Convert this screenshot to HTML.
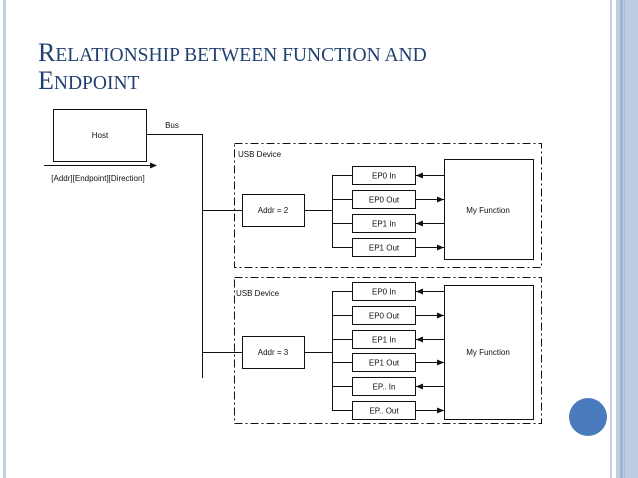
<!DOCTYPE html>
<html><head><meta charset="utf-8"><style>
html,body{margin:0;padding:0;background:#fff;}
svg{display:block;}
.t{font-family:"Liberation Sans",sans-serif;font-size:8px;fill:#111;}
</style></head><body>
<svg width="638" height="478" viewBox="0 0 638 478" xmlns="http://www.w3.org/2000/svg">
<rect width="638" height="478" fill="#fff"/>
<rect x="3" y="0" width="3" height="478" fill="#c3cfe2"/>
<rect x="610" y="0" width="2" height="478" fill="#c3cfe2"/>
<rect x="616" y="0" width="22" height="478" fill="#bfcde2"/>
<rect x="620" y="0" width="3" height="478" fill="#9fb4d2"/>
<rect x="624" y="0" width="1" height="478" fill="#aebfd8"/>
<circle cx="588" cy="417" r="19" fill="#4a7cbd"/>
<g font-family="Liberation Serif, serif" fill="#21406f">
<text x="38" y="61" font-size="26">R<tspan font-size="19.5">ELATIONSHIP BETWEEN FUNCTION AND</tspan></text>
<text x="38" y="89" font-size="26">E<tspan font-size="19.5">NDPOINT</tspan></text>
</g>
<g stroke="#111" stroke-width="1" fill="none">
<rect x="53.5" y="109.5" width="93" height="52"/>
<polyline points="147,134.5 202.5,134.5 202.5,378"/>
<line x1="44" y1="165.5" x2="152" y2="165.5"/>
<rect x="234.5" y="143.5" width="307" height="124" stroke-dasharray="8,3,2,3"/>
<rect x="234.5" y="277.5" width="307" height="146" stroke-dasharray="8,3,2,3"/>
<line x1="202" y1="210.5" x2="242" y2="210.5"/>
<line x1="202" y1="352.5" x2="242" y2="352.5"/>
<rect x="242.5" y="194.5" width="62" height="32"/>
<rect x="242.5" y="336.5" width="62" height="32"/>
<line x1="305" y1="210.5" x2="332" y2="210.5"/>
<line x1="305" y1="352.5" x2="332" y2="352.5"/>
<line x1="332.5" y1="175" x2="332.5" y2="247"/>
<line x1="332.5" y1="291" x2="332.5" y2="410"/>
<rect x="444.5" y="159.5" width="89" height="100"/>
<rect x="444.5" y="285.5" width="89" height="134"/>
</g>
<polygon points="157,165.5 150,162.5 150,168.5" fill="#111"/>
<text class="t" x="100" y="138" text-anchor="middle">Host</text>
<text class="t" x="172" y="128" text-anchor="middle">Bus</text>
<text class="t" x="98" y="181" text-anchor="middle">[Addr][Endpoint][Direction]</text>
<text class="t" x="238" y="157">USB Device</text>
<text class="t" x="236" y="296">USB Device</text>
<text class="t" x="273" y="213" text-anchor="middle">Addr = 2</text>
<text class="t" x="273" y="355" text-anchor="middle">Addr = 3</text>
<text class="t" x="488" y="213" text-anchor="middle">My Function</text>
<text class="t" x="488" y="355" text-anchor="middle">My Function</text>
<g stroke="#111" fill="none">
<line x1="332" y1="175.5" x2="352" y2="175.5"/><rect x="352.5" y="166.5" width="63" height="18"/><line x1="416" y1="175.5" x2="444" y2="175.5"/>
<line x1="332" y1="199.5" x2="352" y2="199.5"/><rect x="352.5" y="190.5" width="63" height="18"/><line x1="416" y1="199.5" x2="444" y2="199.5"/>
<line x1="332" y1="223.5" x2="352" y2="223.5"/><rect x="352.5" y="214.5" width="63" height="18"/><line x1="416" y1="223.5" x2="444" y2="223.5"/>
<line x1="332" y1="247.5" x2="352" y2="247.5"/><rect x="352.5" y="238.5" width="63" height="18"/><line x1="416" y1="247.5" x2="444" y2="247.5"/>
<line x1="332" y1="291.5" x2="352" y2="291.5"/><rect x="352.5" y="282.5" width="63" height="18"/><line x1="416" y1="291.5" x2="444" y2="291.5"/>
<line x1="332" y1="315.5" x2="352" y2="315.5"/><rect x="352.5" y="306.5" width="63" height="18"/><line x1="416" y1="315.5" x2="444" y2="315.5"/>
<line x1="332" y1="339.5" x2="352" y2="339.5"/><rect x="352.5" y="330.5" width="63" height="18"/><line x1="416" y1="339.5" x2="444" y2="339.5"/>
<line x1="332" y1="362.5" x2="352" y2="362.5"/><rect x="352.5" y="353.5" width="63" height="18"/><line x1="416" y1="362.5" x2="444" y2="362.5"/>
<line x1="332" y1="386.5" x2="352" y2="386.5"/><rect x="352.5" y="377.5" width="63" height="18"/><line x1="416" y1="386.5" x2="444" y2="386.5"/>
<line x1="332" y1="410.5" x2="352" y2="410.5"/><rect x="352.5" y="401.5" width="63" height="18"/><line x1="416" y1="410.5" x2="444" y2="410.5"/>
</g>
<g fill="#111">
<polygon points="416,175.5 423,172.5 423,178.5"/>
<polygon points="444,199.5 437,196.5 437,202.5"/>
<polygon points="416,223.5 423,220.5 423,226.5"/>
<polygon points="444,247.5 437,244.5 437,250.5"/>
<polygon points="416,291.5 423,288.5 423,294.5"/>
<polygon points="444,315.5 437,312.5 437,318.5"/>
<polygon points="416,339.5 423,336.5 423,342.5"/>
<polygon points="444,362.5 437,359.5 437,365.5"/>
<polygon points="416,386.5 423,383.5 423,389.5"/>
<polygon points="444,410.5 437,407.5 437,413.5"/>
</g>
<g class="t" text-anchor="middle">
<text x="384" y="178.5">EP0 In</text>
<text x="384" y="202.5">EP0 Out</text>
<text x="384" y="226.5">EP1 In</text>
<text x="384" y="250.5">EP1 Out</text>
<text x="384" y="294.5">EP0 In</text>
<text x="384" y="318.5">EP0 Out</text>
<text x="384" y="342.5">EP1 In</text>
<text x="384" y="365.5">EP1 Out</text>
<text x="384" y="389.5">EP.. In</text>
<text x="384" y="413.5">EP.. Out</text>
</g>
</svg>
</body></html>
